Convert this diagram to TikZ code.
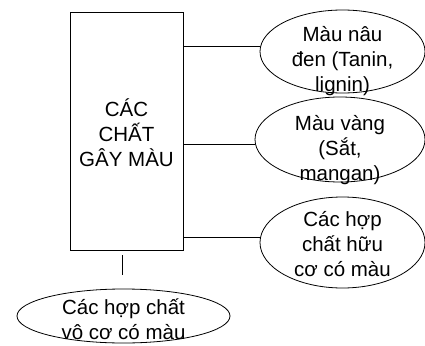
\documentclass[tikz,border=0pt]{standalone}
\usepackage{fontspec}
\setmainfont{Liberation Sans}
\usetikzlibrary{shapes.geometric}
\begin{document}
\begin{tikzpicture}[x=1pt,y=-1pt,
  link/.style={draw=black,line width=0.8pt},
  oval/.style={draw=black,line width=0.8pt,ellipse,inner sep=0pt},
  txt/.style={font=\fontsize{20.5}{25}\selectfont,align=center,inner sep=0pt}]
\useasboundingbox (0,0) rectangle (425,345);
% central box
\node[draw=black,line width=0.8pt,minimum width=113pt,minimum height=238pt,inner sep=0pt]
  (box) at (126.5,131) {};
\node[txt] (boxtxt) at (126.5,133) {CÁC\\CHẤT\\GÂY MÀU};
% ovals on the right
\node[oval,minimum width=165pt,minimum height=83pt] (e1) at (342.5,51.5) {};
\node[txt] (t1) at (342.5,61) {Màu nâu\\đen (Tanin,\\lignin)};
\node[oval,minimum width=170pt,minimum height=85pt] (e2) at (340,139.5) {};
\node[txt] (t2) at (340,150) {Màu vàng\\(Sắt,\\mangan)};
\node[oval,minimum width=165pt,minimum height=91pt] (e3) at (342.5,242.5) {};
\node[txt] (t3) at (342.5,244) {Các hợp\\chất hữu\\cơ có màu};
% oval below
\node[oval,minimum width=213pt,minimum height=54pt] (e4) at (123.5,316) {};
\node[txt] (t4) at (123.5,319) {Các hợp chất\\vô cơ có màu};
% connectors
\coordinate (c1) at (box.east |- 0,46);
\coordinate (c2) at (box.east |- 0,144);
\coordinate (c3) at (box.east |- 0,237);
\draw[link] (c1) -- (c1 -| e1.west);
\draw[link] (c2) -- (c2 -| e2.west);
\draw[link] (c3) -- (c3 -| e3.west);
\coordinate (v1) at (122,255);
\coordinate (v2) at (122,275);
\draw[link] (v1) -- (v2);
\end{tikzpicture}
\end{document}
